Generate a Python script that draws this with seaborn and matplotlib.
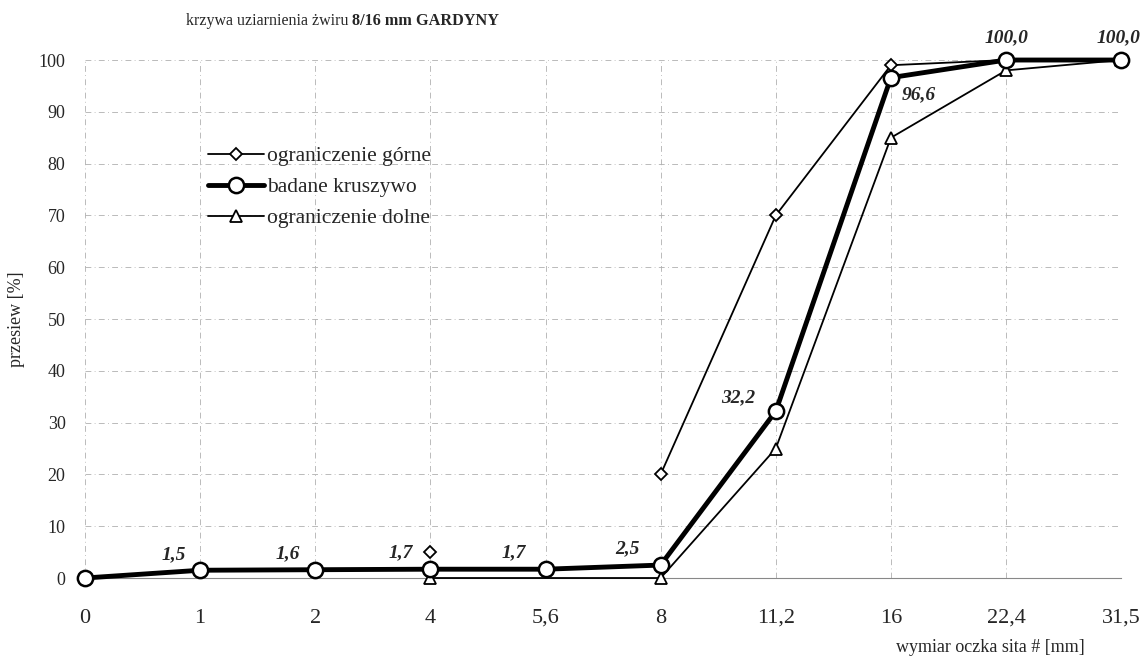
import matplotlib
matplotlib.use("Agg")

import matplotlib.pyplot as plt
import numpy as np
import pandas as pd
import seaborn as sns

# Sieve sizes [mm] shown as evenly spaced categories
SIEVES = ["0", "1", "2", "4", "5,6", "8", "11,2", "16", "22,4", "31,5"]

# tested aggregate (all sieves)
TESTED = [0, 1.5, 1.6, 1.7, 1.7, 2.5, 32.2, 96.6, 100, 100]

# upper limit: one loose point at 4 mm, then a line from 8 mm
UPPER_LOOSE_SIEVE = ["4"]
UPPER_LOOSE = [5]
UPPER_SIEVE = ["8", "11,2", "16", "22,4", "31,5"]
UPPER = [20, 70, 99, 100, 100]

# lower limit
LOWER_SIEVE = ["4", "8", "11,2", "16", "22,4", "31,5"]
LOWER = [0, 0, 25, 85, 98, 100]

# which tested values get a label, and where (pixels from point)
LABEL_OFFSETS = {
    "1": (-26, 16), "2": (-27, 16), "4": (-30, 16), "5,6": (-32, 16),
    "8": (-33, 16), "11,2": (-38, 13), "16": (28, -17),
    "22,4": (0, 22), "31,5": (-3, 22),
}

pos = {s: i for i, s in enumerate(SIEVES)}


def frame(sieves, values, name):
    return pd.DataFrame({"x": [pos[s] for s in sieves], "y": values, "series": name})


def fmt(v):
    # Polish decimal comma, one decimal place
    return f"{v:.1f}".replace(".", ",")


sns.set_theme(style="white")
plt.rcParams["font.family"] = ["Liberation Serif", "DejaVu Serif"]

fig = plt.figure(figsize=(11.45, 6.64), dpi=100)
ax = fig.add_axes([0.0742, 0.1295, 0.905, 0.7801])

df_tested = frame(SIEVES, TESTED, "badane kruszywo")
df_upper = frame(UPPER_SIEVE, UPPER, "ograniczenie górne")
df_lower = frame(LOWER_SIEVE, LOWER, "ograniczenie dolne")
df_loose = frame(UPPER_LOOSE_SIEVE, UPPER_LOOSE, "ograniczenie górne")

sns.lineplot(data=df_upper, x="x", y="y", ax=ax, color="black", lw=1.3,
             marker="D", markersize=6, markerfacecolor="white",
             markeredgecolor="black", markeredgewidth=1.3,
             label="ograniczenie górne", zorder=3)
sns.lineplot(data=df_loose, x="x", y="y", ax=ax, color="black", lw=0,
             marker="D", markersize=6, markerfacecolor="white",
             markeredgecolor="black", markeredgewidth=1.3,
             legend=False, zorder=3)
sns.lineplot(data=df_tested, x="x", y="y", ax=ax, color="black", lw=3.5,
             marker="o", markersize=11, markerfacecolor="white",
             markeredgecolor="black", markeredgewidth=1.8,
             label="badane kruszywo", zorder=4)
sns.lineplot(data=df_lower, x="x", y="y", ax=ax, color="black", lw=1.3,
             marker="^", markersize=8, markerfacecolor="white",
             markeredgecolor="black", markeredgewidth=1.3,
             label="ograniczenie dolne", zorder=3)

# value labels
for s, v in zip(SIEVES, TESTED):
    if s not in LABEL_OFFSETS:
        continue
    ax.annotate(fmt(v), (pos[s], v), textcoords="offset pixels",
                xytext=LABEL_OFFSETS[s], ha="center", va="center",
                fontsize=14, fontstyle="italic", fontweight="bold", zorder=6)

ax.set_xlim(0, len(SIEVES) - 1)
ax.set_ylim(0, 100)
ax.set_xticks(range(len(SIEVES)))
ax.set_xticklabels(SIEVES)
ax.set_yticks(range(0, 101, 10))
ax.tick_params(axis="x", length=0, pad=22, labelsize=16)
ax.tick_params(axis="y", length=0, pad=14, labelsize=13)
ax.grid(True, color="#b0b0b0", lw=0.6, ls=(0, (7, 4, 1, 4)))
for side in ["top", "right", "left"]:
    ax.spines[side].set_visible(False)
ax.spines["bottom"].set_color("#888888")
ax.spines["bottom"].set_linewidth(0.8)
for line in ax.lines:
    line.set_clip_on(False)

ax.set_xlabel("")
ax.set_ylabel("przesiew [%]", fontsize=13, labelpad=10)
fig.text(0.865, 0.025, "wymiar oczka sita # [mm]", ha="center", va="center", fontsize=13)

# title with a bold tail
fig.text(0.3075, 0.968, "krzywa uziarnienia żwiru ", ha="right", va="center", fontsize=11.5)
fig.text(0.3075, 0.968, "8/16 mm GARDYNY", ha="left", va="center", fontsize=11.7,
         fontweight="bold")

leg = ax.legend(loc="upper left", bbox_to_anchor=(0.11, 0.85), frameon=False,
                fontsize=15.5, handlelength=2.6, handletextpad=0.15,
                labelspacing=0.5, borderaxespad=0)

fig.savefig("out.png", dpi=100)
